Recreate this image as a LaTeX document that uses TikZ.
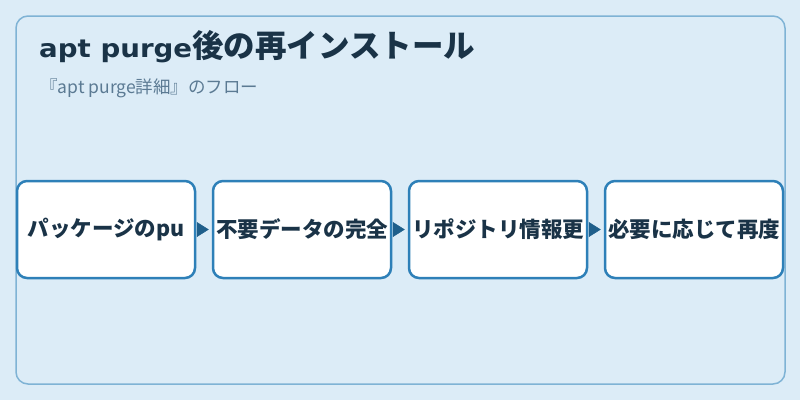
\documentclass[tikz,border=0pt]{standalone}
\usepackage{fontspec}
\setmainfont{Noto Sans CJK JP}
\newfontfamily\latfont{DejaVu Sans Bold}
\usetikzlibrary{arrows.meta}
\definecolor{bgc}{HTML}{DCECF7}
\definecolor{framec}{HTML}{7FB3D5}
\definecolor{boxc}{HTML}{2E80B8}
\definecolor{arrc}{HTML}{1F5F8B}
\definecolor{titlec}{HTML}{1A3347}
\definecolor{subc}{HTML}{5B7A93}
\newlength\latwidth
\AtBeginDocument{%
  \settowidth\latwidth{\latfont\fontsize{25pt}{30pt}\selectfont apt purge}%
  \pgfmathsetmacro\latscale{153/\latwidth}%
  \global\let\latscale\latscale}
\tikzset{
  frame/.style={draw=framec, line width=1.5pt, rounded corners=12pt},
  stepbox/.style={draw=boxc, fill=white, line width=2.5pt, rounded corners=10pt,
    minimum width=178pt, minimum height=97pt, inner sep=0pt},
  boxtext/.style={text=titlec, font=\fontsize{21.5pt}{24pt}\selectfont\bfseries, inner sep=0pt},
  flow/.style={draw=arrc, line width=0.5pt, -{Triangle[length=12pt,width=15pt]}, shorten <=3pt, shorten >=3pt, fill=arrc}
}
\begin{document}
\begin{tikzpicture}[x=1pt,y=-1pt]
\useasboundingbox (0,0) rectangle (800,400);
\fill[bgc] (0,0) rectangle (800,400);
\draw[frame] (16,16) rectangle (785,384);
\node[anchor=base west, inner sep=0pt, text=titlec, font=\fontsize{31.5pt}{36pt}\selectfont\bfseries] (title) at (39,57.5) {\scalebox{\latscale}[1]{\latfont\fontsize{25pt}{30pt}\selectfont apt purge}後の再インストール};
\node[anchor=base west, inner sep=0pt, text=subc, font=\fontsize{17.5pt}{20pt}\selectfont] (sub) at (40,93) {『apt purge詳細』のフロー};
\node[stepbox] (b1) at (106,229.5) {};
\node[stepbox] (b2) at (302,229.5) {};
\node[stepbox] (b3) at (498,229.5) {};
\node[stepbox] (b4) at (694,229.5) {};
\node[boxtext] (t1) at (b1.center) {パッケージのpu};
\node[boxtext] (t2) at (b2.center) {不要データの完全};
\node[boxtext] (t3) at (b3.center) {リポジトリ情報更};
\node[boxtext] (t4) at (b4.center) {必要に応じて再度};
\draw[flow] (b1.east) -- (b2.west);
\draw[flow] (b2.east) -- (b3.west);
\draw[flow] (b3.east) -- (b4.west);
\end{tikzpicture}
\end{document}
